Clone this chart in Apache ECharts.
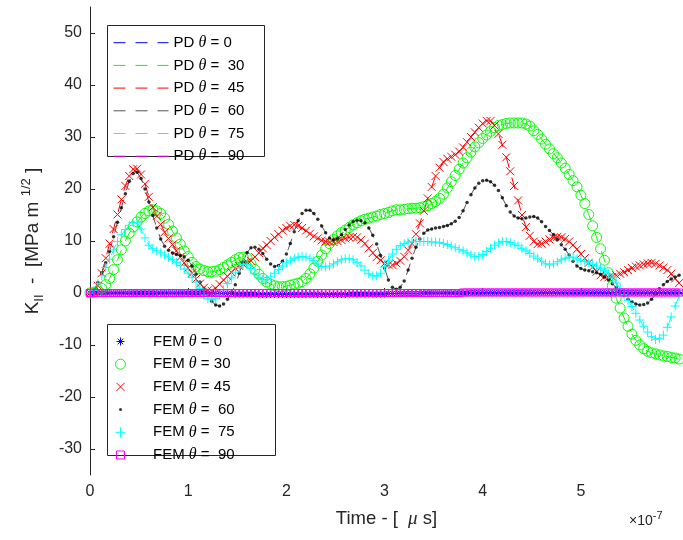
<!DOCTYPE html>
<html><head><meta charset="utf-8">
<script src="https://cdn.jsdelivr.net/npm/echarts@6/dist/echarts.min.js"></script>
<style>html,body{margin:0;padding:0;background:#fff}#c{width:683px;height:540px}</style>
</head><body><div id="c"></div>
<script>
// time in units of 1e-7 s
const time = [0,0.04,0.08,0.12,0.16,0.2,0.24,0.28,0.32,0.36,
  0.4,0.44,0.48,0.52,0.56,0.6,0.64,0.68,0.72,0.76,
  0.8,0.84,0.88,0.92,0.96,1,1.04,1.08,1.12,1.16,
  1.2,1.24,1.28,1.32,1.36,1.4,1.44,1.48,1.52,1.56,
  1.6,1.64,1.68,1.72,1.76,1.8,1.84,1.88,1.92,1.96,
  2,2.04,2.08,2.12,2.16,2.2,2.24,2.28,2.32,2.36,
  2.4,2.44,2.48,2.52,2.56,2.6,2.64,2.68,2.72,2.76,
  2.8,2.84,2.88,2.92,2.96,3,3.04,3.08,3.12,3.16,
  3.2,3.24,3.28,3.32,3.36,3.4,3.44,3.48,3.52,3.56,
  3.6,3.64,3.68,3.72,3.76,3.8,3.84,3.88,3.92,3.96,
  4,4.04,4.08,4.12,4.16,4.2,4.24,4.28,4.32,4.36,
  4.4,4.44,4.48,4.52,4.56,4.6,4.64,4.68,4.72,4.76,
  4.8,4.84,4.88,4.92,4.96,5,5.04,5.08,5.12,5.16,
  5.2,5.24,5.28,5.32,5.36,5.4,5.44,5.48,5.52,5.56,
  5.6,5.64,5.68,5.72,5.76,5.8,5.84,5.88,5.92,5.96,
  6];

const k0 = [0,0,0,0,0,0,0,0,0,0,
  0,0,0,0,0,0,0,0,0,0,
  0,0,0,0,0,0,0,0,0,0,
  0,-0.1,-0.1,-0.1,-0.1,-0.1,-0.1,-0.2,-0.2,-0.2,
  -0.2,-0.2,-0.2,-0.3,-0.3,-0.3,-0.3,-0.3,-0.3,-0.3,
  -0.3,-0.3,-0.3,-0.3,-0.3,-0.3,-0.3,-0.3,-0.3,-0.3,
  -0.3,-0.3,-0.3,-0.3,-0.3,-0.3,-0.2,-0.2,-0.2,-0.2,
  -0.2,-0.2,-0.2,-0.2,-0.2,-0.2,-0.1,-0.1,-0.1,-0.1,
  -0.1,-0.1,-0.1,-0.1,-0.1,0,0,0,0,0,
  0,0,0,0,0,0,0,0.1,0.1,0.1,
  0.1,0.1,0.1,0.1,0.1,0.1,0.1,0.1,0.1,0.1,
  0.1,0.1,0.1,0.1,0.1,0.1,0.1,0.1,0.1,0.1,
  0.1,0.1,0.1,0.1,0.1,0.1,0.1,0.1,0.1,0.1,
  0.1,0.1,0.1,0.1,0.1,0.1,0.1,0.1,0.1,0.1,
  0.1,0.1,0.1,0.1,0.1,0.1,0.1,0.1,0.1,0.1,
  0.1];
const k30 = [0,0.1,0.4,0.9,1.6,2.8,4.5,6.4,8.3,10.0,
  11.5,12.7,13.7,14.6,15.3,15.8,16.0,15.8,15.3,14.4,
  13.2,11.9,10.6,9.4,8.1,7.0,5.9,5.1,4.6,4.3,
  4.1,4.1,4.2,4.5,4.9,5.4,5.9,6.4,6.8,6.9,
  6.7,5.6,4.5,3.6,2.8,2.1,1.7,1.4,1.2,1.2,
  1.3,1.5,1.7,1.9,2.2,2.8,3.7,4.8,6.1,7.3,
  8.5,9.5,10.3,11.0,11.6,12.1,12.6,13.1,13.5,13.9,
  14.2,14.4,14.6,14.8,15.1,15.3,15.5,15.8,16.0,16.0,
  16.1,16.2,16.3,16.3,16.4,16.6,16.8,17.2,17.6,18.2,
  19.0,20.2,21.4,22.6,23.8,25.0,26.0,27.1,28.1,28.9,
  29.7,30.4,31.1,31.8,32.2,32.4,32.6,32.7,32.7,32.7,
  32.7,32.5,32.1,31.2,30.5,29.6,28.6,27.7,26.8,26.0,
  25.0,24.0,22.8,21.6,20.4,18.8,17.2,15.1,12.9,10.7,
  8.5,6.3,3.9,1.4,-1.0,-2.9,-4.8,-6.4,-7.9,-9.1,
  -10.0,-10.7,-11.2,-11.5,-11.7,-11.9,-12.1,-12.2,-12.4,-12.5,
  -12.7];
const k45 = [0,0.2,1.4,3.8,6.7,9.5,12.3,15.1,18.0,20.6,
  22.5,23.8,23.9,22.8,21.0,18.5,16.5,14.8,13.2,11.7,
  10.5,9.3,8.1,6.9,5.8,4.8,3.8,2.7,1.8,1.0,
  0.5,0.4,0.9,1.7,2.5,3.2,4.0,4.7,5.2,5.5,
  5.9,6.2,6.9,7.7,8.6,9.2,10.0,10.7,11.3,12.0,
  12.5,12.9,13.1,12.9,12.5,12.0,11.4,10.9,10.5,10.1,
  9.9,9.8,9.8,10.0,10.2,10.5,10.7,10.8,10.7,10.2,
  9.5,8.6,7.7,6.9,6.3,5.7,5.4,5.4,5.7,6.2,
  7.0,8.2,9.5,11.3,13.4,15.8,18.2,20.4,22.5,24.1,
  25.2,25.8,26.2,26.6,27.2,28.0,29.0,30.0,30.9,31.8,
  32.6,33.1,33.1,32.2,30.6,28.5,26.1,23.4,20.6,17.8,
  15.0,12.7,11.0,9.9,9.4,9.5,9.9,10.3,10.6,10.8,
  10.7,10.4,9.9,9.2,8.4,7.5,6.7,5.8,5.0,4.1,
  3.4,3.1,3.0,3.1,3.4,3.7,4.0,4.4,4.8,5.1,
  5.3,5.5,5.7,5.8,5.6,5.3,4.9,4.4,3.7,2.8,
  1.9];
const k60 = [0,0.6,2.0,3.9,5.8,8.0,10.8,13.6,16.4,19.1,
  21.5,23.0,23.2,22.0,20.0,17.5,14.9,12.5,10.4,9.0,
  8.2,7.7,7.4,7.2,6.9,6.3,5.2,3.6,2.1,0.7,
  -0.5,-1.6,-2.3,-2.5,-2.1,-1.2,0.0,1.6,3.8,6.0,
  7.8,8.7,8.8,8.4,7.6,6.5,5.6,5.1,5.3,6.1,
  7.5,9.5,11.8,13.9,15.3,15.9,15.9,15.3,14.2,12.9,
  11.6,10.6,10.2,10.5,11.2,12.2,13.1,13.7,14.0,13.9,
  13.5,12.5,11.1,9.4,7.2,4.8,2.5,1.1,0.7,1.1,
  2.3,4.4,6.7,8.8,10.4,11.5,12.1,12.3,12.5,12.6,
  12.8,13.0,13.3,13.8,14.5,15.8,17.4,18.9,20.2,21.1,
  21.6,21.7,21.4,20.7,19.7,18.3,16.8,15.6,14.8,14.4,
  14.3,14.4,14.6,14.7,14.4,13.7,12.8,12.0,11.2,10.3,
  9.3,8.4,7.3,6.1,5.2,4.7,4.4,4.3,4.1,3.9,
  3.6,3.1,2.5,1.8,1.0,0.3,-0.5,-1.2,-1.7,-2.1,
  -2.3,-2.2,-1.9,-1.2,-0.3,0.8,1.6,2.2,2.7,3.1,
  3.4];
const k75 = [0,0.5,1.8,3.3,4.9,6.5,8.3,9.9,11.2,12.2,
  13.0,13.5,13.5,12.3,10.6,9.2,8.5,8.1,7.7,7.3,
  6.9,6.4,5.9,5.3,4.6,3.8,3.0,2.1,0.9,-0.4,
  -1.1,-1.3,-1.1,-0.4,0.6,1.8,2.9,4.0,4.9,5.5,
  5.5,4.7,3.8,3.0,2.6,2.6,3.1,3.8,4.5,5.2,
  5.8,6.3,6.7,6.9,7.0,6.9,6.7,6.2,5.6,5.1,
  5.0,5.2,5.6,6.0,6.4,6.6,6.6,6.4,5.9,5.2,
  4.4,3.7,3.3,3.3,3.8,5.0,6.3,7.5,8.4,9.1,
  9.5,9.8,9.9,9.9,9.9,9.9,9.9,9.8,9.8,9.7,
  9.5,9.3,9.0,8.7,8.4,8.1,7.7,7.3,7.0,7.1,
  7.4,8.0,8.6,9.2,9.6,9.9,9.9,9.7,9.4,9.1,
  8.6,8.1,7.6,7.1,6.7,6.1,5.6,5.4,5.6,6.0,
  6.4,6.7,6.9,6.9,6.6,6.3,6.1,5.8,5.5,5.2,
  4.8,4.3,3.7,2.9,1.9,0.9,-0.3,-1.4,-2.6,-3.9,
  -5.2,-6.4,-7.5,-8.4,-8.9,-8.8,-8.1,-6.6,-4.6,-2.5,
  -0.6];
const k90 = [0,0,0,0,0,0,0,0,0,0,
  0,0,0,0,0,0,0,0,0,0,
  0,0,0,0,0,0,0,0,0,0,
  0,0,0,0,0,0,0,0,0,0,
  0,0,0,0,0,0,0,0,0,0,
  0,0,0,0,0,0,0,0,0,0,
  0,0,0,0,0,0,0,0,0,0,
  0,0,0,0,0,0,0,0,0,0,
  0,0,0,0,0,0,0,0,0,0,
  0,0,0,0,0,0.1,0.1,0.1,0.1,0.1,
  0.1,0.1,0.1,0.1,0.1,0.1,0.1,0.1,0.1,0.1,
  0.1,0.1,0.1,0.1,0.1,0.1,0.1,0.1,0.1,0.1,
  0.1,0.1,0.1,0.1,0.1,0.1,0.1,0.1,0.1,0.1,
  0.1,0.1,0.1,0.1,0.1,0.1,0.1,0.1,0.1,0.1,
  0.1,0.1,0.1,0.1,0.1,0.1,0.1,0.1,0.1,0.1,
  0.1];

const xTicks = [0,1,2,3,4,5];
const yTicks = [-30,-20,-10,0,10,20,30,40,50];
const pdNames = ['PD θ = 0','PD θ =  30','PD θ =  45','PD θ =  60','PD θ =  75','PD θ =  90'];
const femNames = ['FEM θ = 0','FEM θ = 30','FEM θ = 45','FEM θ =  60','FEM θ =  75','FEM θ =  90'];
const angleValues = [k0, k30, k45, k60, k75, k90];
const colors = ['#0000ff','#00ff00','#ff0000','#000000','#00ffff','#ff00ff'];
const pdColors = ['#0000ff','#00ff00','#ff0000','#555555','#00ffff','#ff00ff'];

const FONT = 'Liberation Sans';
const TXT = '#262626';

const symbols = [
  'path://M5,0L5,10M0,5L10,5M1.5,1.5L8.5,8.5M8.5,1.5L1.5,8.5',
  'circle',
  'path://M0,0L10,10M10,0L0,10',
  'circle',
  'path://M5,0L5,10M0,5L10,5',
  'rect'
];
const symbolSizes = [7, 10, 8, 3.5, 9, 7];
const legendIcons = [
  'path://M0,0M14,14M7,3L7,11M3,7L11,7M4.2,4.2L9.8,9.8M9.8,4.2L4.2,9.8',
  'path://M0,0M14,14M2,7A5,5,0,1,1,12,7A5,5,0,1,1,2,7Z',
  'path://M0,0M14,14M3,3L11,11M11,3L3,11',
  'path://M0,0M14,14M5.5,7A1.5,1.5,0,1,1,8.5,7A1.5,1.5,0,1,1,5.5,7Z',
  'path://M0,0M14,14M7,2L7,12M2,7L12,7',
  'path://M0,0M14,14M3,3L11,3L11,11L3,11Z'
];

function pairs(vals){ return time.map((t,i)=>[t, vals[i]]); }

const series = [];
angleValues.forEach((vals, i) => {
  series.push({
    name: pdNames[i], type: 'line', data: pairs(vals), symbol: 'none', showSymbol: false,
    lineStyle: {color: pdColors[i], width: 1, type: [12, 10]}, itemStyle: {color: pdColors[i]},
    silent: true, z: 2
  });
});
angleValues.forEach((vals, i) => {
  const filled = (i === 3);
  series.push({
    name: femNames[i], type: 'scatter', data: pairs(vals), symbol: symbols[i], symbolSize: symbolSizes[i],
    itemStyle: filled ? {color: colors[i]} : {color: 'rgba(0,0,0,0)', borderColor: colors[i], borderWidth: 1, opacity: 1},
    silent: true, z: 2
  });
});

const legendFmt = name => name.replace('θ', '{i|θ}');
const legendText = {
  fontFamily: FONT, fontSize: 15, color: '#000', lineHeight: 14,
  rich: {i: {fontFamily: 'Liberation Serif', fontStyle: 'italic', fontSize: 16, lineHeight: 14, color: '#000'}}
};

const option = {
  animation: false,
  backgroundColor: '#fff',
  grid: {left: 90, right: 0, top: 7, bottom: 65, outerBoundsMode: 'none', containLabel: false},
  xAxis: {
    type: 'value', min: 0, max: 6.04,
    axisLine: {show: true, lineStyle: {color: TXT, width: 1}},
    axisTick: {show: true, inside: true, length: 5, customValues: xTicks, lineStyle: {color: TXT}},
    axisLabel: {customValues: xTicks, fontFamily: FONT, fontSize: 16, color: TXT, margin: 9},
    splitLine: {show: false},
    name: 'Time - [  {i|μ} s]', nameLocation: 'middle', nameGap: 34,
    nameTextStyle: {fontFamily: FONT, fontSize: 18.5, color: TXT, lineHeight: 20,
      rich: {i: {fontFamily: 'Liberation Serif', fontStyle: 'italic', fontSize: 19, color: TXT, lineHeight: 20}}}
  },
  yAxis: {
    type: 'value', min: -35, max: 55,
    axisLine: {show: true, lineStyle: {color: TXT, width: 1}},
    axisTick: {show: true, inside: true, length: 5, customValues: yTicks, lineStyle: {color: TXT}},
    axisLabel: {customValues: yTicks, fontFamily: FONT, fontSize: 16, color: TXT, margin: 8},
    splitLine: {show: false},
    name: 'K{sub|II}  -  [MPa m {sup|1/2} ]', nameLocation: 'middle', nameRotate: 90, nameGap: 44,
    nameTextStyle: {fontFamily: FONT, fontSize: 19, color: TXT, lineHeight: 26,
      rich: {
        sub: {fontFamily: FONT, fontSize: 13, color: TXT, lineHeight: 14, verticalAlign: 'bottom'},
        sup: {fontFamily: FONT, fontSize: 13, color: TXT, lineHeight: 14, verticalAlign: 'top'}
      }}
  },
  legend: [
    {
      data: pdNames, orient: 'vertical', left: 113, top: 34.7, padding: 0,
      itemWidth: 55, itemHeight: 14, itemGap: 6.7, selectedMode: false,
      formatter: legendFmt, textStyle: legendText,
      itemStyle: {color: 'rgba(0,0,0,0)', borderColor: 'rgba(0,0,0,0)', borderWidth: 0, opacity: 0},
      lineStyle: {width: 1}, z: 10
    },
    {
      data: femNames.map((n, i) => ({name: n, icon: legendIcons[i]})),
      orient: 'vertical', left: 113, top: 333.5, padding: 0,
      itemWidth: 55, itemHeight: 14, itemGap: 6.7, selectedMode: false,
      formatter: legendFmt, textStyle: legendText,
      itemStyle: {borderWidth: 1}, z: 10
    }
  ],
  graphic: [
    {type: 'rect', z: 5, silent: true, shape: {x: 107.5, y: 25.5, width: 157, height: 131},
      style: {fill: '#fff', stroke: TXT, lineWidth: 1}},
    {type: 'rect', z: 5, silent: true, shape: {x: 107.5, y: 324.5, width: 168, height: 131},
      style: {fill: '#fff', stroke: TXT, lineWidth: 1}},
    {type: 'text', z: 5, silent: true, left: 629, top: 510,
      style: {text: '×10{sup|-7}', fill: TXT, font: '14px Liberation Sans', lineHeight: 22,
        rich: {sup: {fontSize: 11, fontFamily: FONT, fill: TXT, verticalAlign: 'top', lineHeight: 12}}}}
  ],
  series: series
};

const chart = echarts.init(document.getElementById('c'), null, {renderer: 'canvas'});
chart.setOption(option);
</script>
</body></html>
